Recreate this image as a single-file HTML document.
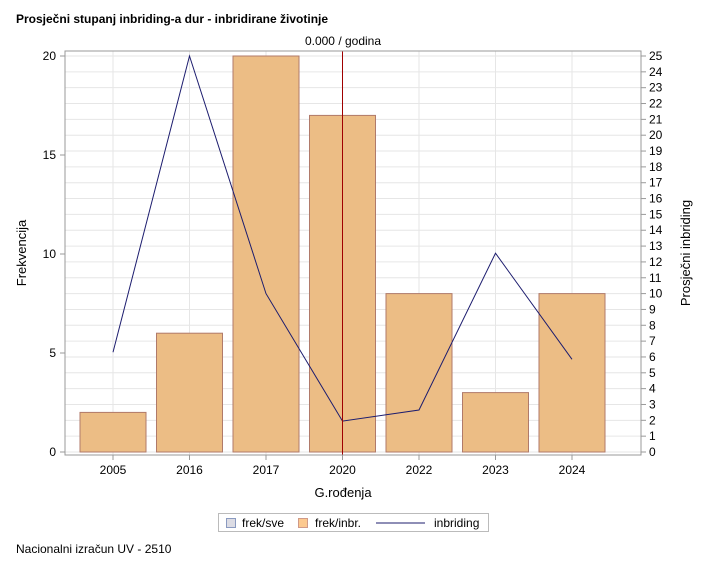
<!DOCTYPE html>
<html><head><meta charset="utf-8"><style>
body{margin:0;background:#fff;font-family:"Liberation Sans",sans-serif;}
svg text{font-family:"Liberation Sans",sans-serif;fill:#000;}
</style></head><body>
<svg id="c" width="718" height="567" xmlns="http://www.w3.org/2000/svg">
<text x="16" y="23" font-size="12" font-weight="bold">Prosječni stupanj inbriding-a dur - inbridirane životinje</text>
<text x="343" y="45" font-size="12" text-anchor="middle">0.000 / godina</text>
<g id="grid"></g>
<g id="bars"></g>
<g id="line"></g>
<rect x="65" y="51" width="576" height="404" fill="none" stroke="#999"/>
<g id="axes"></g>
<text x="343" y="497" font-size="13" text-anchor="middle">G.rođenja</text>
<text transform="translate(26,253) rotate(-90)" font-size="13" text-anchor="middle">Frekvencija</text>
<text transform="translate(690,253) rotate(-90)" font-size="13" text-anchor="middle">Prosječni inbriding</text>
<g>
<rect x="218.5" y="513.5" width="270" height="18" fill="none" stroke="#bbb"/>
<rect x="226.5" y="518.5" width="9" height="9" fill="#dcdce4" stroke="#8a9ac0"/>
<text x="242" y="527" font-size="12">frek/sve</text>
<rect x="298.5" y="518.5" width="9" height="9" fill="#fcc98f" stroke="#d09a88"/>
<text x="315" y="527" font-size="12">frek/inbr.</text>
<line x1="376" y1="523" x2="425" y2="523" stroke="#1c1c6e"/>
<text x="434" y="527" font-size="12">inbriding</text>
</g>
<text x="16" y="553" font-size="12">Nacionalni izračun UV - 2510</text>
</svg>
<script>
const categories=["2005","2016","2017","2020","2022","2023","2024"];
const freqValues=[2,6,20,17,8,3,8];
const inbreedValues=[6.3,25,10,1.95,2.65,12.55,5.85];
const leftTicks=[0,5,10,15,20];
const rightTicks=[0,1,2,3,4,5,6,7,8,9,10,11,12,13,14,15,16,17,18,19,20,21,22,23,24,25];
const refCategory="2020";
const NS="http://www.w3.org/2000/svg";
const x0=113,step=76.5,y0=452,yTop=56;
const xs=i=>x0+i*step;
const yL=v=>y0-v*(y0-yTop)/20;
const yR=v=>y0-v*(y0-yTop)/25;
function mk(t,a,p){const e=document.createElementNS(NS,t);for(const k in a)e.setAttribute(k,a[k]);p.appendChild(e);return e;}
const grid=document.getElementById('grid'),bars=document.getElementById('bars'),line=document.getElementById('line'),axes=document.getElementById('axes');
rightTicks.forEach(v=>{const l=mk('line',{x1:65,x2:641,y1:yR(v),y2:yR(v),stroke:'#e6e6e6'},grid);


const t=mk('line',{x1:641,x2:646,y1:yR(v),y2:yR(v),stroke:'#999'},axes);
const tx=mk('text',{x:649,y:yR(v)+4,'font-size':12},axes);tx.textContent=v;

});
leftTicks.forEach(v=>{mk('line',{x1:60,x2:65,y1:yL(v),y2:yL(v),stroke:'#999'},axes);
const tx=mk('text',{x:56,y:yL(v)+4,'font-size':12,'text-anchor':'end'},axes);tx.textContent=v;

});
categories.forEach((c,i)=>{const x=xs(i);
const g=mk('line',{x1:x,x2:x,y1:51,y2:455,stroke:'#e6e6e6'},grid);


mk('line',{x1:x,x2:x,y1:455,y2:460,stroke:'#999'},axes);
const tx=mk('text',{x:x,y:474,'font-size':12,'text-anchor':'middle'},axes);tx.textContent=c;


const b=mk('rect',{x:x-33,y:yL(freqValues[i]),width:66,height:y0-yL(freqValues[i]),fill:'#ecbd85',stroke:'#b07a6a'},bars);

});
const pts=inbreedValues.map((v,i)=>xs(i)+','+yR(v)).join(' ');
const pl=mk('polyline',{points:pts,fill:'none',stroke:'#1c1c6e','stroke-width':1},line);


const ri=categories.indexOf(refCategory);
const rl=mk('line',{x1:xs(ri),x2:xs(ri),y1:51,y2:455,stroke:'#a00000','stroke-width':1},line);


</script>
</body></html>
